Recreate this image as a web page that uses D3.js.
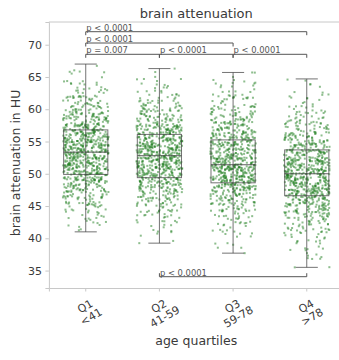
<!DOCTYPE html>
<html>
<head>
<meta charset="utf-8">
<script src="https://cdn.jsdelivr.net/npm/d3@7"></script>
<style>
  html, body { margin: 0; padding: 0; background: #fff; }
  svg { display: block; font-family: "DejaVu Sans", sans-serif; }
</style>
</head>
<body>
<svg id="chart" width="339" height="360"></svg>
<script>
// Age groups and their tick labels
const groups = ["Q1", "Q2", "Q3", "Q4"];
const groupRanges = ["<41", "41-59", "59-78", ">78"];

// Box-plot summaries (HU): lower whisker, Q1, median, Q3, upper whisker
const whiskerLow  = [41.0, 39.25, 37.7, 35.5];
const quart1      = [49.9, 49.4, 48.6, 46.6];
const medians     = [53.35, 52.8, 51.4, 50.0];
const quart3      = [56.8, 56.1, 55.25, 53.7];
const whiskerHigh = [67.0, 66.3, 65.7, 64.7];

// Number of patients per 1-HU bin, starting at binStart for each group
const binStart = [41, 39, 37, 35];
const countsQ1 = [4, 6, 9, 13, 19, 25, 32, 39, 47, 53, 58, 61, 62, 61, 57, 52, 45, 38, 30, 24, 18, 13, 9, 6, 4, 2];
const countsQ2 = [2, 3, 5, 8, 11, 15, 20, 27, 34, 41, 49, 55, 60, 62, 61, 58, 52, 46, 39, 32, 25, 19, 14, 10, 7, 4, 2, 1];
const countsQ3 = [1, 2, 3, 5, 7, 10, 14, 19, 25, 34, 43, 52, 59, 62, 60, 55, 50, 45, 40, 36, 31, 26, 21, 17, 13, 10, 7, 5, 3];
const countsQ4 = [2, 3, 4, 6, 8, 11, 15, 20, 26, 33, 41, 49, 55, 59, 60, 58, 54, 49, 43, 37, 31, 25, 20, 15, 11, 8, 6, 4, 3, 2];
const binCounts = [countsQ1, countsQ2, countsQ3, countsQ4];

// Pairwise comparisons: [from group, to group, label]
const comparisons = [
  ["Q1", "Q4", "p < 0.0001"],
  ["Q1", "Q3", "p < 0.0001"],
  ["Q1", "Q2", "p = 0.007"],
  ["Q2", "Q3", "p < 0.0001"],
  ["Q3", "Q4", "p < 0.0001"]
];
const bottomComparison = ["Q2", "Q4", "p < 0.0001"];

const yTicks = [35, 40, 45, 50, 55, 60, 65, 70];

const svg = d3.select("#chart");
const margin = { left: 48.9, right: 343.6, top: 22, bottom: 288 };

const x = d3.scaleBand().domain(groups).range([margin.left, margin.right]).padding(0);
const y = d3.scaleLinear().domain([32.3, 73.52]).range([margin.bottom, margin.top]);
const cx = g => x(g) + x.bandwidth() / 2;

const spine = "#c8c8c8";
const textCol = "#3a3a3a";
const boxCol = "#444";

// Frame
svg.append("line").attr("x1", margin.left).attr("x2", margin.right)
  .attr("y1", margin.top).attr("y2", margin.top).attr("stroke", spine);

// Axes
const yAxis = svg.append("g").attr("transform", `translate(${margin.left},0)`)
  .call(d3.axisLeft(y).tickValues(yTicks).tickSize(3.5).tickPadding(3.5));
const xAxis = svg.append("g").attr("transform", `translate(0,${margin.bottom})`)
  .call(d3.axisBottom(x).tickSize(3.5).tickFormat(""));
[yAxis, xAxis].forEach(a => {
  a.select(".domain").attr("stroke", spine);
  a.selectAll(".tick line").attr("stroke", spine);
});
yAxis.selectAll(".tick text").attr("fill", textCol).style("font-size", "11px")
  .style("font-family", "DejaVu Sans");

// Rotated two-line category labels
groups.forEach((g, i) => {
  const t = svg.append("text")
    .attr("transform", `translate(${cx(g) + 2},${311}) rotate(-30)`)
    .attr("text-anchor", "middle").attr("fill", textCol)
    .style("font-size", "11px");
  t.append("tspan").attr("x", 0).attr("y", -1.5).text(g);
  t.append("tspan").attr("x", 0).attr("y", 10.5).text(groupRanges[i]);
});

// Deterministic scatter of in-bin position and horizontal jitter
function hash01(i, salt) {
  let h = Math.imul(i ^ salt, 0x9e3779b1);
  h ^= h >>> 15; h = Math.imul(h, 0x85ebca77);
  h ^= h >>> 13; h = Math.imul(h, 0xc2b2ae3d);
  h ^= h >>> 16;
  return (h >>> 0) / 4294967296;
}

// Jittered points, one per patient, placed inside their HU bin
const jitter = x.bandwidth() * 0.31;
const points = [];
let n = 0;
groups.forEach((g, gi) => {
  binCounts[gi].forEach((c, bi) => {
    for (let k = 0; k < c; k++) {
      n++;
      const u = hash01(n, 0x51ed), v = hash01(n, 0x2b7c);
      let val = binStart[gi] + bi + u;
      val = Math.max(whiskerLow[gi], Math.min(whiskerHigh[gi], val));
      points.push({ g, val, off: (v - 0.5) * 2 * jitter });
    }
  });
});
svg.append("g").selectAll("rect").data(points).join("rect")
  .attr("x", d => cx(d.g) + d.off - 1)
  .attr("y", d => y(d.val) - 1)
  .attr("width", 2).attr("height", 2)
  .attr("fill", "#1e7d1e").attr("fill-opacity", 0.5);

// Box plots
const boxW = x.bandwidth() * 0.6, capW = boxW * 0.5;
const boxes = svg.append("g").attr("stroke", boxCol).attr("stroke-width", 1).attr("fill", "none");
groups.forEach((g, i) => {
  const c = cx(g);
  boxes.append("line").attr("x1", c).attr("x2", c)
    .attr("y1", y(whiskerLow[i])).attr("y2", y(whiskerHigh[i])).attr("stroke-opacity", 0.75);
  [whiskerLow[i], whiskerHigh[i]].forEach(w => boxes.append("line")
    .attr("x1", c - capW / 2).attr("x2", c + capW / 2)
    .attr("y1", y(w)).attr("y2", y(w)).attr("stroke-opacity", 0.75));
  boxes.append("rect").attr("x", c - boxW / 2).attr("width", boxW)
    .attr("y", y(quart3[i])).attr("height", y(quart1[i]) - y(quart3[i]))
    .attr("stroke-opacity", 0.75);
  boxes.append("line").attr("x1", c - boxW / 2).attr("x2", c + boxW / 2)
    .attr("y1", y(medians[i])).attr("y2", y(medians[i])).attr("stroke-opacity", 0.85);
});

// Significance brackets
const bracketY = [31.7, 43, 54.3, 54.3, 54.3];
const brk = svg.append("g");
function bracket(a, b, label, yy, dir) {
  const x1 = cx(a), x2 = cx(b), tick = 3.5 * dir;
  brk.append("path")
    .attr("d", `M${x1},${yy + tick}V${yy}H${x2}V${yy + tick}`)
    .attr("fill", "none").attr("stroke", "#555").attr("stroke-width", 1);
  brk.append("text").attr("x", x1 + 0.5).attr("y", yy - 1.2)
    .attr("fill", "#555").style("font-size", "8.4px").text(label);
}
comparisons.forEach((c, i) => bracket(c[0], c[1], c[2], bracketY[i], 1));
bracket(bottomComparison[0], bottomComparison[1], bottomComparison[2], 276.7, -1);

// Titles
svg.append("text").attr("x", (margin.left + margin.right) / 2).attr("y", 17.5)
  .attr("text-anchor", "middle").attr("fill", textCol).style("font-size", "13px")
  .text("brain attenuation");
svg.append("text").attr("x", (margin.left + margin.right) / 2).attr("y", 345)
  .attr("text-anchor", "middle").attr("fill", textCol).style("font-size", "12.5px")
  .text("age quartiles");
svg.append("text").attr("transform", `translate(20,${(margin.top + margin.bottom) / 2 + 8}) rotate(-90)`)
  .attr("text-anchor", "middle").attr("fill", textCol).style("font-size", "12.5px")
  .text("brain attenuation in HU");
</script>
</body>
</html>
